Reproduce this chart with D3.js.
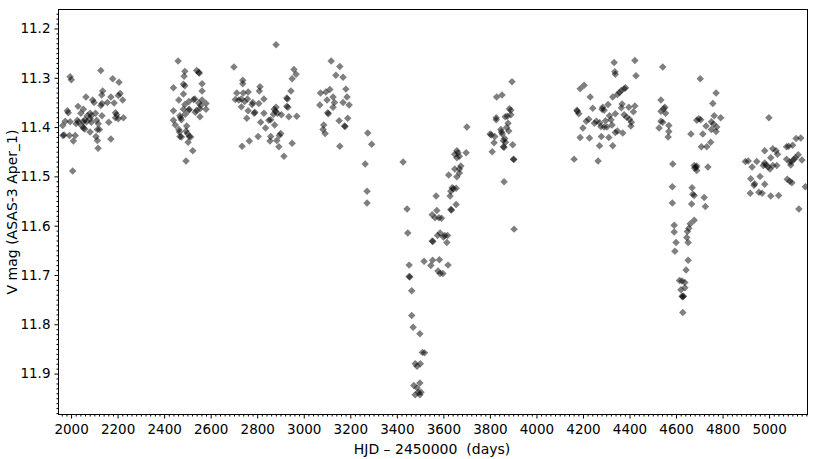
<!DOCTYPE html>
<html>
<head>
<meta charset="utf-8">
<script src="https://cdn.jsdelivr.net/npm/d3@7"></script>
<style>
  html, body { margin: 0; padding: 0; background: #fff; }
  svg { display: block; }
  text { font-family: "DejaVu Sans", sans-serif; fill: #000; }
</style>
</head>
<body>
<svg id="chart" width="827" height="459"></svg>
<script>
// ---- data: [HJD - 2450000, V mag] ----
const season1 = [[2128,11.285],[1996,11.298],[2001,11.304],[2179,11.302],[2206,11.309],[2136,11.327],[2064,11.339],[2132,11.335],[2211,11.332],[2203,11.336],[2171,11.339],[2093,11.345],[2099,11.350],[2128,11.356],[2133,11.352],[2156,11.350],[2185,11.351],[2222,11.345],[2030,11.358],[1984,11.367],[1988,11.371],[2053,11.364],[2082,11.372],[2070,11.377],[2087,11.377],[2042,11.372],[2105,11.372],[2133,11.377],[2191,11.371],[2196,11.375],[2191,11.381],[2203,11.383],[2225,11.381],[2162,11.390],[2027,11.386],[2033,11.390],[2022,11.393],[2059,11.385],[2053,11.389],[2067,11.389],[2087,11.390],[2082,11.383],[2110,11.386],[2117,11.393],[1975,11.388],[1996,11.389],[1964,11.397],[2047,11.398],[2053,11.402],[2059,11.404],[2082,11.410],[2113,11.405],[2122,11.405],[1970,11.416],[1993,11.417],[2018,11.417],[2010,11.428],[2107,11.419],[2113,11.427],[2171,11.424],[2116,11.443],[2007,11.489],[1965,11.417]];
const season2 = [[2460,11.266],[2489,11.287],[2486,11.297],[2540,11.285],[2549,11.289],[2551,11.291],[2563,11.312],[2483,11.313],[2489,11.316],[2440,11.320],[2563,11.327],[2483,11.333],[2526,11.344],[2532,11.343],[2463,11.345],[2506,11.348],[2563,11.345],[2549,11.351],[2557,11.356],[2554,11.363],[2580,11.352],[2580,11.364],[2489,11.354],[2508,11.364],[2506,11.366],[2440,11.367],[2483,11.364],[2540,11.366],[2534,11.370],[2468,11.377],[2471,11.381],[2474,11.385],[2491,11.374],[2554,11.379],[2440,11.386],[2448,11.396],[2497,11.398],[2463,11.405],[2466,11.410],[2468,11.419],[2474,11.420],[2494,11.408],[2500,11.413],[2508,11.419],[2514,11.420],[2503,11.431],[2523,11.448],[2494,11.469]];
const season3 = [[2881,11.233],[2700,11.278],[2958,11.283],[2967,11.293],[2950,11.302],[2738,11.305],[2738,11.312],[2812,11.318],[2809,11.327],[2945,11.327],[2712,11.331],[2740,11.331],[2761,11.329],[2706,11.344],[2721,11.345],[2732,11.343],[2758,11.343],[2746,11.348],[2781,11.350],[2778,11.354],[2807,11.352],[2829,11.343],[2927,11.341],[2930,11.343],[2927,11.358],[2932,11.360],[2732,11.359],[2761,11.367],[2787,11.372],[2790,11.370],[2829,11.372],[2873,11.364],[2881,11.360],[2878,11.368],[2887,11.372],[2870,11.374],[2904,11.375],[2936,11.379],[2970,11.378],[2755,11.382],[2815,11.390],[2850,11.386],[2858,11.385],[2875,11.396],[2836,11.402],[2804,11.419],[2858,11.419],[2855,11.428],[2901,11.413],[2895,11.417],[2766,11.428],[2884,11.427],[2950,11.433],[2735,11.439],[2893,11.440],[2915,11.459]];
const season4 = [[3118,11.266],[3155,11.277],[3138,11.295],[3169,11.299],[3112,11.324],[3095,11.329],[3072,11.331],[3181,11.323],[3126,11.339],[3132,11.350],[3186,11.339],[3100,11.345],[3169,11.350],[3195,11.355],[3069,11.355],[3126,11.360],[3103,11.371],[3106,11.373],[3189,11.382],[3152,11.387],[3086,11.396],[3083,11.405],[3092,11.413],[3175,11.398],[3178,11.399],[3155,11.439],[3275,11.412],[3292,11.435],[3264,11.475],[3272,11.530],[3272,11.554]];
const season5 = [[3427,11.471],[3444,11.566],[3447,11.615],[3453,11.680],[3453,11.703],[3456,11.704],[3464,11.732],[3464,11.782],[3470,11.806],[3499,11.819],[3510,11.857],[3519,11.858],[3479,11.880],[3487,11.885],[3501,11.880],[3473,11.924],[3487,11.929],[3499,11.919],[3479,11.943],[3493,11.938],[3504,11.938],[3499,11.943],
  [3701,11.400],[3658,11.448],[3663,11.452],[3649,11.455],[3658,11.462],[3669,11.459],[3698,11.452],[3675,11.479],[3669,11.485],[3649,11.485],[3623,11.497],[3658,11.501],[3669,11.493],[3638,11.523],[3643,11.525],[3655,11.524],[3632,11.530],[3629,11.540],[3569,11.540],[3655,11.557],[3632,11.567],[3635,11.568],[3572,11.569],[3552,11.578],[3564,11.584],[3581,11.584],[3592,11.585],[3586,11.615],[3575,11.620],[3600,11.623],[3606,11.620],[3618,11.620],[3615,11.634],[3552,11.631],[3555,11.632],[3517,11.672],[3554,11.670],[3583,11.669],[3546,11.681],[3620,11.680],[3577,11.692],[3586,11.697],[3598,11.697]];
const season6 = [[3884,11.363],[3890,11.366],[3875,11.378],[3890,11.375],[3827,11.381],[3827,11.385],[3866,11.379],[3878,11.392],[3847,11.405],[3872,11.401],[3881,11.408],[3801,11.414],[3806,11.416],[3821,11.419],[3853,11.414],[3850,11.410],[3864,11.423],[3858,11.427],[3867,11.431],[3898,11.436],[3818,11.432],[3858,11.440],[3861,11.441],[3810,11.450],[3901,11.465],[3903,11.466],[3861,11.511],[3904,11.607],[3829,11.339],[3852,11.335],[3895,11.308]];
const season7 = [[4334,11.269],[4423,11.265],[4337,11.288],[4339,11.293],[4428,11.296],[4188,11.322],[4205,11.315],[4231,11.339],[4328,11.339],[4348,11.334],[4357,11.330],[4365,11.326],[4377,11.322],[4383,11.320],[4308,11.354],[4368,11.353],[4365,11.361],[4397,11.360],[4423,11.357],[4417,11.369],[4242,11.362],[4282,11.364],[4291,11.366],[4285,11.360],[4174,11.366],[4182,11.373],[4176,11.368],[4339,11.373],[4377,11.375],[4388,11.380],[4225,11.384],[4214,11.388],[4249,11.392],[4258,11.388],[4272,11.391],[4297,11.387],[4314,11.377],[4320,11.385],[4400,11.384],[4408,11.390],[4277,11.399],[4291,11.400],[4303,11.400],[4325,11.396],[4200,11.402],[4406,11.398],[4348,11.408],[4339,11.411],[4371,11.412],[4188,11.421],[4228,11.422],[4279,11.419],[4311,11.421],[4271,11.438],[4328,11.438],[4162,11.465],[4265,11.469]];
const season8 = [[4543,11.278],[4704,11.302],[4772,11.331],[4535,11.345],[4758,11.352],[4552,11.360],[4547,11.363],[4535,11.368],[4555,11.372],[4764,11.377],[4792,11.381],[4698,11.383],[4706,11.385],[4689,11.386],[4535,11.388],[4543,11.390],[4752,11.389],[4761,11.394],[4569,11.397],[4729,11.398],[4775,11.400],[4527,11.402],[4752,11.405],[4772,11.409],[4569,11.409],[4566,11.420],[4664,11.414],[4715,11.414],[4749,11.431],[4732,11.440],[4709,11.440],[4586,11.475],[4678,11.478],[4686,11.482],[4689,11.479],[4680,11.483],[4689,11.488],[4737,11.481],[4584,11.521],[4669,11.523],[4672,11.536],[4678,11.539],[4721,11.543],[4726,11.561],[4584,11.554],[4667,11.556],[4592,11.599],[4592,11.613],[4678,11.589],[4661,11.596],[4655,11.605],[4649,11.612],[4646,11.624],[4652,11.634],[4600,11.634],[4595,11.652],[4652,11.670],[4643,11.690],[4615,11.711],[4626,11.712],[4638,11.715],[4621,11.730],[4638,11.726],[4626,11.743],[4629,11.744],[4632,11.743],[4629,11.776]];
const season9 = [[4999,11.381],[5116,11.423],[5136,11.422],[4981,11.448],[5016,11.444],[5030,11.448],[5036,11.455],[5075,11.440],[5084,11.439],[5101,11.437],[5007,11.462],[5125,11.456],[5113,11.462],[4898,11.470],[4910,11.469],[4947,11.470],[4927,11.481],[4981,11.473],[4975,11.478],[4987,11.477],[5016,11.478],[5033,11.478],[5004,11.485],[4996,11.481],[5075,11.465],[5089,11.471],[5098,11.470],[5107,11.465],[5093,11.477],[5141,11.467],[4921,11.505],[4961,11.500],[4938,11.515],[4935,11.518],[4981,11.516],[5078,11.506],[5089,11.510],[5098,11.513],[5156,11.521],[4919,11.534],[4956,11.532],[4970,11.534],[5007,11.540],[5041,11.539],[5128,11.566]];

const xTicks = [2000,2200,2400,2600,2800,3000,3200,3400,3600,3800,4000,4200,4400,4600,4800,5000];
const yTicks = [11.2,11.3,11.4,11.5,11.6,11.7,11.8,11.9];
const xDomain = [1946, 5165];
const yDomain = [11.1615, 11.983];
const xTitle = "HJD \u2013 2450000  (days)";
const yTitle = "V mag (ASAS-3 Aper_1)";

// ---- layout ----
const L = 58.5, R = 807.5, T = 9.5, B = 414.5;
const svg = d3.select("#chart");
const x = d3.scaleLinear().domain(xDomain).range([L, R]);
const y = d3.scaleLinear().domain(yDomain).range([T, B]);

const points = [].concat(season1, season2, season3, season4, season5, season6, season7, season8, season9);

svg.append("clipPath").attr("id", "clip")
  .append("rect").attr("x", L).attr("y", T).attr("width", R - L).attr("height", B - T);

const diamond = d3.symbol().type(d3.symbolSquare).size(28);
svg.append("g").attr("clip-path", "url(#clip)")
  .selectAll("path").data(points).join("path")
  .attr("d", diamond)
  .attr("transform", d => `translate(${x(d[0])},${y(d[1])}) rotate(45)`)
  .attr("fill", "#000")
  .attr("fill-opacity", 0.5);

// x axis
const xMinor = d3.range(1960, 5165, 20).filter(v => v % 200 !== 0);
const xAxisMinor = d3.axisBottom(x).tickValues(xMinor).tickSize(2).tickFormat("");
const xAxis = d3.axisBottom(x).tickValues(xTicks).tickSize(4).tickPadding(4).tickFormat(d3.format("d"));
svg.append("g").attr("transform", `translate(0,${B})`).call(xAxisMinor)
  .call(g => g.select(".domain").remove());
const gx = svg.append("g").attr("transform", `translate(0,${B})`).call(xAxis);
gx.select(".domain").remove();
gx.selectAll("text").attr("font-size", 13.5).attr("font-family", "DejaVu Sans, sans-serif").attr("dy", "0.85em");

// y axis
const yMinor = d3.range(11.17, 11.981, 0.01).map(v => +v.toFixed(2)).filter(v => Math.round(v * 100) % 10 !== 0);
const yAxisMinor = d3.axisLeft(y).tickValues(yMinor).tickSize(2).tickFormat("");
const yAxis = d3.axisLeft(y).tickValues(yTicks).tickSize(4).tickPadding(4).tickFormat(d3.format(".1f"));
svg.append("g").attr("transform", `translate(${L},0)`).call(yAxisMinor)
  .call(g => g.select(".domain").remove());
const gy = svg.append("g").attr("transform", `translate(${L},0)`).call(yAxis);
gy.select(".domain").remove();
gy.selectAll("text").attr("font-size", 13.5).attr("font-family", "DejaVu Sans, sans-serif");

svg.selectAll(".tick line").attr("stroke", "#000");

// frame
svg.append("rect").attr("x", L).attr("y", T).attr("width", R - L).attr("height", B - T)
  .attr("fill", "none").attr("stroke", "#000").attr("stroke-width", 1);

// titles
svg.append("text").attr("x", 432).attr("y", 454)
  .attr("text-anchor", "middle").attr("font-size", 14)
  .style("white-space", "pre").text(xTitle);
svg.append("text").attr("transform", `translate(17,${(T + B) / 2}) rotate(-90)`)
  .attr("text-anchor", "middle").attr("font-size", 14).text(yTitle);
</script>
</body>
</html>
